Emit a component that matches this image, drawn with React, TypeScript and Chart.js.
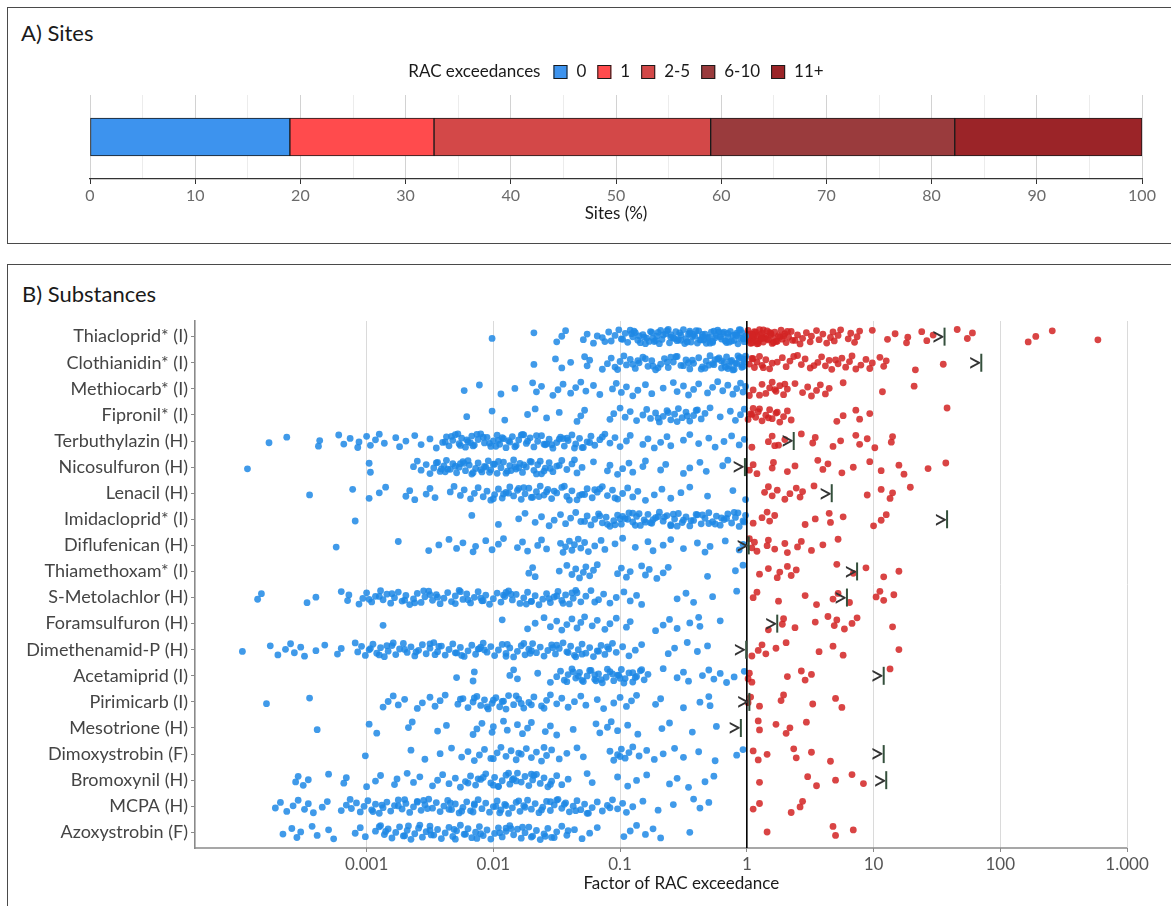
import React, { useEffect, useRef } from "react";
import { Chart, registerables } from "chart.js";

Chart.register(...registerables);

const FONT = "Lato, 'Noto Sans', sans-serif";

// ---------- Panel A: sites ----------
const siteCategories = ["0", "1", "2-5", "6-10", "11+"];
const sitePercent = [19.0, 13.7, 26.3, 23.2, 17.8];
const siteColors = ["#3d93ee", "#ff4b4d", "#d34848", "#9a3b3d", "#9b2428"];
const siteLegendTitle = "RAC exceedances";

// ---------- Panel B: substances ----------
const substances = [
  "Thiacloprid* (I)", "Clothianidin* (I)", "Methiocarb* (I)", "Fipronil* (I)",
  "Terbuthylazin (H)", "Nicosulfuron (H)", "Lenacil (H)", "Imidacloprid* (I)",
  "Diflufenican (H)", "Thiamethoxam* (I)", "S-Metolachlor (H)", "Foramsulfuron (H)",
  "Dimethenamid-P (H)", "Acetamiprid (I)", "Pirimicarb (I)", "Mesotrione (H)",
  "Dimoxystrobin (F)", "Bromoxynil (H)", "MCPA (H)", "Azoxystrobin (F)",
];

const xTickValues = [0.001, 0.01, 0.1, 1, 10, 100, 1000];
const xTickLabels = ["0.001", "0.01", "0.1", "1", "10", "100", "1.000"];

// log10 of the factor of RAC exceedance of each measurement
const thiacloprid = [-2.01,-1.68,-1.5,-1.46,-1.43,-1.29,-1.26,-1.21,-1.14,-1.09,-1.07,-1.04,-1.01,-0.99,-0.96,-0.94,-0.9,-0.89,-0.86,-0.82,-0.8,-0.79,-0.75,-0.73,-0.71,-0.68,-0.67,-0.64,-0.61,-0.6,-0.56,-0.55,-0.52,-0.5,-0.48,-0.45,-0.44,-0.41,-0.38,-0.37,-0.35,-0.32,-0.31,-0.28,-0.27,-0.24,-0.23,-0.2,-0.19,-0.16,-0.15,-0.13,-0.1,-0.09,-0.07,-0.05,-0.04,-0.02,-0.01,-0.63,-0.54,-0.46,-0.39,-0.3,-0.22,-0.17,-0.11,-0.06,-0.03,-0.08,-0.14,-0.21,-0.26,-0.34,-0.42,-0.49,-0.58,-0.7,-0.77,-0.85,-0.92,
  -0.98,-0.91,-0.84,-0.81,-0.76,-0.72,-0.66,-0.62,-0.57,-0.53,-0.47,-0.43,-0.4,-0.36,-0.33,-0.29,-0.25,-0.18,-0.12,-0.08,-0.05,-0.02,-0.15,-0.27,-0.35,-0.45,-0.52,-0.6,-0.69,-0.74,-0.88,-1.12,-1.18,
  0.01,0.02,0.03,0.04,0.05,0.06,0.07,0.08,0.1,0.11,0.12,0.13,0.15,0.16,0.17,0.19,0.2,0.21,0.22,0.24,0.25,0.27,0.28,0.3,0.31,0.33,0.35,0.38,0.4,0.42,0.44,0.47,0.5,0.51,0.55,0.57,0.6,0.63,0.66,0.68,0.69,0.72,0.74,0.8,0.82,0.85,0.87,0.89,0.02,0.06,0.09,0.14,0.18,0.23,0.29,0.99,1.11,1.17,1.26,1.27,1.38,1.42,1.47,1.66,1.74,1.78,2.22,2.28,2.41,2.77,
  0.01,0.03,0.05,0.07,0.09,0.11,0.13,0.16,0.19,0.21,0.26,0.32,0.36,0.04,0.08,0.12];
const clothianidin = [-1.68,-1.51,-1.46,-1.39,-1.28,-1.26,-1.24,-1.14,-1.1,-1.07,-1.04,-1.0,-0.97,-0.95,-0.92,-0.88,-0.85,-0.82,-0.78,-0.75,-0.72,-0.68,-0.65,-0.62,-0.58,-0.55,-0.52,-0.48,-0.45,-0.42,-0.38,-0.35,-0.32,-0.29,-0.26,-0.23,-0.2,-0.18,-0.16,-0.14,-0.12,-0.1,-0.08,-0.06,-0.04,-0.02,-0.01,-0.3,-0.25,-0.15,-0.09,-0.05,-0.03,-0.2,-0.11,
  -0.9,-0.8,-0.7,-0.63,-0.56,-0.5,-0.43,-0.36,-0.27,-0.22,-0.17,-0.13,-0.07,-0.04,-0.02,-0.33,-0.46,-0.6,-0.74,-0.86,-1.02,
  0.02,0.04,0.06,0.08,0.1,0.12,0.15,0.18,0.2,0.28,0.31,0.34,0.4,0.43,0.46,0.5,0.56,0.59,0.62,0.65,0.67,0.72,0.75,0.78,0.81,0.83,0.9,0.94,0.97,0.99,1.05,1.08,1.1,1.33,1.55,0.05,0.13,0.24,0.37,0.53,0.7,0.86];
const methiocarb = [-2.23,-2.11,-1.94,-1.83,-1.69,-1.66,-1.62,-1.53,-1.49,-1.45,-1.39,-1.35,-1.31,-1.27,-1.21,-1.16,-1.06,-1.03,-0.99,-0.95,-0.9,-0.86,-0.8,-0.75,-0.66,-0.58,-0.55,-0.5,-0.46,-0.42,-0.38,-0.31,-0.27,-0.23,-0.19,-0.15,-0.11,-0.08,-0.05,-0.03,-0.01,
  0.02,0.05,0.12,0.15,0.18,0.2,0.23,0.26,0.29,0.32,0.38,0.44,0.48,0.51,0.55,0.58,0.62,0.65,0.76,1.07,1.32,0.1,0.22,0.3];
const fipronil = [-2.21,-2.01,-1.91,-1.73,-1.67,-1.58,-1.48,-1.34,-1.31,-1.28,-1.08,-1.05,-1.0,-0.96,-0.92,-0.87,-0.82,-0.79,-0.76,-0.72,-0.69,-0.66,-0.63,-0.6,-0.57,-0.54,-0.51,-0.48,-0.45,-0.42,-0.39,-0.36,-0.33,-0.29,-0.21,-0.13,-0.09,-0.05,-0.02,-0.7,-0.62,-0.55,-0.47,-0.4,
  0.01,0.03,0.05,0.07,0.09,0.12,0.15,0.18,0.2,0.23,0.26,0.29,0.32,0.35,0.04,0.1,0.17,0.24,0.71,0.76,0.86,0.89,0.97,1.58];
const terbuthylazin = [-3.77,-3.63,-3.38,-3.37,-3.22,-3.18,-3.13,-3.07,-3.06,-3.0,-2.97,-2.93,-2.9,-2.86,-2.77,-2.74,-2.69,-2.62,-2.57,-2.5,-2.45,-2.4,-2.37,-2.35,-2.32,-2.3,-2.27,-2.25,-2.22,-2.2,-2.17,-2.15,-2.12,-2.1,-2.07,-2.05,-2.02,-2.0,-1.97,-1.95,-1.92,-1.9,-1.87,-1.85,-1.82,-1.8,-1.77,-1.74,-1.71,-1.68,-1.65,-1.62,-1.59,-1.56,-1.53,-1.5,-1.47,-1.44,-1.41,-1.38,-1.35,-1.32,-1.29,-1.26,-1.23,-1.2,-1.16,-1.12,-1.08,-1.04,-1.0,-0.95,-0.92,-0.82,-0.78,-0.73,-0.68,-0.63,-0.6,-0.5,-0.45,-0.38,-0.3,-0.25,-0.18,-0.12,-0.06,-0.02,-2.28,-2.18,-2.08,-1.98,-1.88,-1.78,-1.6,-1.45,-1.3,
  -2.38,-2.33,-2.26,-2.21,-2.13,-2.03,-1.93,-1.83,-1.73,-1.66,-1.54,-1.48,-1.36,-1.24,-1.14,-2.16,-1.96,-1.76,-1.58,-1.42,
  0.04,0.17,0.2,0.25,0.3,0.43,0.52,0.54,0.68,0.74,0.86,0.89,0.95,1.01,1.14,1.15,0.22];
const nicosulfuron = [-3.94,-2.98,-2.97,-2.63,-2.6,-2.57,-2.53,-2.5,-2.47,-2.44,-2.42,-2.39,-2.37,-2.34,-2.32,-2.29,-2.27,-2.24,-2.22,-2.19,-2.17,-2.14,-2.12,-2.09,-2.07,-2.04,-2.02,-1.99,-1.97,-1.94,-1.92,-1.89,-1.87,-1.84,-1.82,-1.79,-1.77,-1.74,-1.71,-1.68,-1.65,-1.62,-1.59,-1.56,-1.53,-1.5,-1.46,-1.42,-1.38,-1.34,-1.3,-1.21,-1.1,-1.08,-1.02,-0.98,-0.93,-0.9,-0.82,-0.8,-0.68,-0.64,-0.5,-0.45,-0.37,-0.32,-0.19,-0.15,-2.36,-2.26,-2.16,-2.06,-1.96,-1.86,-1.76,-1.66,-1.55,
  -2.45,-2.38,-2.3,-2.2,-2.1,-2.0,-1.9,-1.8,-1.7,-1.6,-1.48,-1.36,-2.41,-2.23,-2.03,-1.83,-1.63,
  0.02,0.05,0.08,0.2,0.21,0.32,0.38,0.56,0.6,0.64,0.75,0.84,0.97,1.06,1.2,1.24,1.43,1.57];
const lenacil = [-3.45,-3.11,-2.98,-2.9,-2.85,-2.69,-2.66,-2.62,-2.53,-2.5,-2.46,-2.34,-2.31,-2.26,-2.23,-2.18,-2.15,-2.12,-2.08,-2.05,-2.02,-1.99,-1.96,-1.93,-1.9,-1.87,-1.84,-1.81,-1.78,-1.75,-1.72,-1.69,-1.66,-1.63,-1.6,-1.57,-1.54,-1.5,-1.46,-1.42,-1.38,-1.34,-1.3,-1.26,-1.22,-1.18,-1.14,-1.1,-1.06,-1.02,-0.98,-0.94,-0.9,-0.86,-0.8,-0.73,-0.67,-0.6,-0.52,-0.45,-0.31,-0.11,-0.01,-1.92,-1.8,-1.7,-1.58,-1.44,-1.32,-1.2,
  -2.0,-1.88,-1.76,-1.64,-1.52,-1.4,-1.28,-1.16,-1.04,
  0.14,0.17,0.2,0.24,0.3,0.34,0.39,0.42,0.44,0.53,0.95,1.06,1.13,1.15,1.29];
const imidacloprid = [-3.09,-2.17,-1.96,-1.8,-1.75,-1.67,-1.62,-1.56,-1.52,-1.47,-1.43,-1.39,-1.35,-1.31,-1.26,-1.23,-1.2,-1.17,-1.14,-1.11,-1.08,-1.05,-1.02,-0.99,-0.96,-0.93,-0.9,-0.87,-0.84,-0.81,-0.78,-0.75,-0.72,-0.69,-0.66,-0.63,-0.6,-0.57,-0.54,-0.51,-0.48,-0.45,-0.42,-0.39,-0.36,-0.33,-0.3,-0.27,-0.24,-0.21,-0.18,-0.15,-0.12,-0.09,-0.06,-0.03,-0.01,-1.1,-1.0,-0.9,-0.8,-0.7,-0.6,-0.5,-0.4,-0.3,-0.2,-0.1,
  -1.28,-1.16,-1.04,-0.94,-0.85,-0.76,-0.65,-0.55,-0.44,-0.35,-0.25,-0.16,-0.07,-0.02,-0.98,-0.88,-0.74,-0.58,
  0.05,0.12,0.16,0.18,0.22,0.46,0.54,0.65,0.66,0.76,1.0,1.06,1.1];
const diflufenican = [-3.24,-2.75,-2.51,-2.43,-2.35,-2.29,-2.24,-2.16,-2.14,-2.06,-2.01,-1.96,-1.92,-1.81,-1.77,-1.73,-1.65,-1.62,-1.58,-1.47,-1.45,-1.43,-1.4,-1.38,-1.36,-1.33,-1.31,-1.28,-1.25,-1.2,-1.15,-1.12,-1.04,-0.98,-0.88,-0.78,-0.74,-0.66,-0.6,-0.5,-0.39,-0.33,-0.29,-0.17,-0.06,-0.03,
  0.02,0.04,0.06,0.08,0.16,0.17,0.22,0.3,0.32,0.4,0.43,0.51,0.6,0.72];
const thiamethoxam = [-1.72,-1.69,-1.67,-1.48,-1.42,-1.38,-1.35,-1.32,-1.29,-1.27,-1.24,-1.21,-1.18,-1.02,-0.99,-0.95,-0.92,-0.83,-0.8,-0.77,-0.71,-0.66,-0.62,-0.31,-0.09,-0.03,
  0.1,0.17,0.24,0.26,0.32,0.35,0.39,0.71,0.84,0.94,1.08,1.2];
const sMetolachlor = [-3.86,-3.83,-3.47,-3.4,-3.2,-3.15,-3.14,-3.06,-3.03,-3.0,-2.96,-2.93,-2.89,-2.87,-2.84,-2.81,-2.78,-2.75,-2.72,-2.69,-2.66,-2.63,-2.6,-2.57,-2.54,-2.51,-2.48,-2.45,-2.42,-2.39,-2.36,-2.33,-2.3,-2.27,-2.24,-2.21,-2.18,-2.15,-2.12,-2.09,-2.06,-2.03,-2.0,-1.97,-1.94,-1.91,-1.88,-1.85,-1.82,-1.79,-1.76,-1.73,-1.7,-1.67,-1.64,-1.61,-1.58,-1.55,-1.52,-1.49,-1.46,-1.43,-1.4,-1.37,-1.34,-1.31,-1.27,-1.23,-1.17,-1.13,-1.08,-1.03,-0.97,-0.92,-0.87,-0.83,-0.55,-0.48,-0.42,-0.27,-0.08,-2.7,-2.5,-2.3,-2.1,-1.9,-1.7,-1.5,-1.35,
  -2.98,-2.8,-2.62,-2.44,-2.26,-2.08,-1.92,-1.74,-1.56,-1.38,-1.2,-2.9,-2.55,-2.2,-1.86,-1.45,
  0.05,0.08,0.25,0.46,0.55,0.68,0.72,0.81,1.02,1.05,1.08,1.16];
const foramsulfuron = [-2.87,-1.93,-1.73,-1.67,-1.6,-1.55,-1.5,-1.46,-1.42,-1.38,-1.34,-1.31,-1.28,-1.22,-1.18,-1.12,-1.08,-1.03,-0.95,-0.92,-0.72,-0.66,-0.61,-0.55,-0.45,-0.38,-0.37,-0.21,
  0.17,0.28,0.29,0.38,0.54,0.64,0.69,0.71,0.77,0.83,0.87,1.15];
const dimethenamidP = [-3.98,-3.76,-3.7,-3.64,-3.6,-3.57,-3.52,-3.49,-3.4,-3.33,-3.23,-3.2,-3.09,-3.07,-3.04,-3.01,-2.98,-2.95,-2.92,-2.89,-2.86,-2.83,-2.8,-2.77,-2.74,-2.71,-2.68,-2.65,-2.62,-2.59,-2.56,-2.53,-2.5,-2.47,-2.44,-2.41,-2.38,-2.35,-2.32,-2.29,-2.26,-2.23,-2.2,-2.17,-2.14,-2.11,-2.08,-2.05,-2.02,-1.99,-1.96,-1.93,-1.9,-1.87,-1.84,-1.81,-1.78,-1.75,-1.72,-1.69,-1.66,-1.63,-1.6,-1.57,-1.54,-1.51,-1.48,-1.45,-1.42,-1.39,-1.36,-1.33,-1.3,-1.27,-1.24,-1.21,-1.18,-1.15,-1.12,-1.09,-1.06,-1.03,-0.98,-0.93,-0.88,-0.83,-0.62,-0.57,-0.47,-0.39,-0.31,-2.9,-2.7,-2.5,-2.3,-2.1,-1.9,-1.7,-1.5,-1.3,
  -2.97,-2.79,-2.61,-2.43,-2.25,-2.07,-1.89,-1.71,-1.53,-1.35,-1.17,-2.84,-2.46,-2.12,-1.76,-1.41,-1.1,
  0.04,0.09,0.12,0.15,0.23,0.31,0.57,0.68,0.76,1.2];
const acetamiprid = [-2.29,-2.15,-2.16,-1.87,-1.84,-1.81,-1.65,-1.55,-1.5,-1.47,-1.44,-1.41,-1.38,-1.35,-1.32,-1.29,-1.26,-1.23,-1.2,-1.17,-1.14,-1.11,-1.08,-1.05,-1.02,-0.99,-0.96,-0.93,-0.9,-0.87,-0.84,-0.81,-0.78,-0.66,-0.55,-0.5,-0.46,-0.35,-0.3,-0.26,-0.21,-0.16,-0.1,-0.02,-1.3,-1.2,-1.1,-1.0,-0.9,
  -1.42,-1.33,-1.24,-1.15,-1.06,-0.97,-0.88,-1.37,-1.19,-1.01,-0.83,
  0.01,0.02,0.04,0.32,0.43,0.46,0.51,1.13];
const pirimicarb = [-3.79,-3.45,-2.87,-2.83,-2.79,-2.75,-2.7,-2.6,-2.56,-2.5,-2.46,-2.42,-2.38,-2.28,-2.24,-2.2,-2.16,-2.13,-2.1,-2.07,-2.04,-2.01,-1.98,-1.95,-1.92,-1.88,-1.84,-1.8,-1.76,-1.72,-1.68,-1.62,-1.58,-1.55,-1.5,-1.46,-1.41,-1.36,-1.31,-1.27,-1.18,-1.13,-1.05,-1.0,-0.95,-0.91,-0.87,-0.72,-0.68,-0.5,-0.37,-0.3,-0.29,-2.0,-1.9,-1.78,
  -2.15,-2.05,-1.93,-1.82,-1.7,-2.26,-1.6,
  0.01,0.03,0.1,0.27,0.29,0.52,0.7,0.75];
const mesotrione = [-3.39,-2.98,-2.92,-2.67,-2.64,-2.44,-2.37,-2.16,-2.13,-2.09,-2.01,-2.0,-1.92,-1.89,-1.81,-1.77,-1.73,-1.7,-1.59,-1.55,-1.5,-1.37,-1.19,-1.16,-1.1,-1.07,-1.02,-0.94,-0.86,-0.67,-0.61,-0.43,-0.24,
  0.09,0.1,0.23,0.31,0.34,0.47];
const dimoxystrobin = [-3.01,-2.65,-2.54,-2.42,-2.33,-2.25,-2.2,-2.15,-2.11,-2.07,-2.02,-1.97,-1.94,-1.9,-1.86,-1.82,-1.78,-1.74,-1.7,-1.66,-1.62,-1.58,-1.54,-1.48,-1.42,-1.34,-1.29,-1.08,-1.05,-1.02,-0.99,-0.96,-0.93,-0.9,-0.85,-0.79,-0.73,-0.66,-0.57,-0.5,-0.38,-0.25,-0.08,-0.03,-2.0,-1.8,-1.6,-1.0,
  0.05,0.09,0.16,0.37,0.39,0.51,0.66];
const bromoxynil = [-3.56,-3.54,-3.5,-3.46,-3.3,-3.18,-3.16,-3.0,-2.93,-2.89,-2.78,-2.76,-2.68,-2.63,-2.58,-2.48,-2.44,-2.4,-2.35,-2.3,-2.26,-2.22,-2.18,-2.14,-2.1,-2.06,-2.02,-1.99,-1.96,-1.93,-1.9,-1.87,-1.84,-1.81,-1.78,-1.75,-1.72,-1.69,-1.66,-1.63,-1.6,-1.57,-1.54,-1.5,-1.46,-1.41,-1.26,-1.22,-1.02,-0.94,-0.87,-0.79,-0.61,-0.55,-0.46,-0.33,-0.26,-2.0,-1.85,-1.7,
  -2.2,-2.08,-1.96,-1.82,-1.68,-1.55,-2.12,-1.88,
  0.1,0.48,0.55,0.7,0.83,0.92];
const mcpa = [-3.72,-3.68,-3.63,-3.58,-3.54,-3.49,-3.46,-3.42,-3.35,-3.31,-3.2,-3.16,-3.13,-3.12,-3.08,-3.05,-3.02,-2.99,-2.96,-2.93,-2.9,-2.87,-2.84,-2.81,-2.78,-2.75,-2.72,-2.69,-2.66,-2.63,-2.6,-2.57,-2.54,-2.51,-2.48,-2.45,-2.42,-2.39,-2.36,-2.33,-2.3,-2.27,-2.24,-2.21,-2.18,-2.15,-2.12,-2.09,-2.06,-2.03,-2.0,-1.97,-1.94,-1.91,-1.88,-1.85,-1.82,-1.79,-1.76,-1.73,-1.7,-1.67,-1.64,-1.61,-1.58,-1.55,-1.52,-1.49,-1.46,-1.43,-1.4,-1.37,-1.34,-1.31,-1.28,-1.25,-1.22,-1.18,-1.14,-1.1,-1.06,-1.02,-0.98,-0.95,-0.9,-0.82,-0.7,-0.58,-0.42,-0.37,-0.3,-2.95,-2.75,-2.55,-2.35,-2.15,-1.95,-1.75,-1.55,-1.35,
  -2.88,-2.7,-2.52,-2.34,-2.16,-1.98,-1.8,-1.62,-1.44,-1.26,-1.08,-2.6,-2.25,-1.9,-1.5,
  0.05,0.1,0.35,0.42,0.44];
const azoxystrobin = [-3.66,-3.59,-3.55,-3.52,-3.43,-3.39,-3.3,-3.26,-3.09,-3.05,-3.01,-2.93,-2.89,-2.86,-2.83,-2.8,-2.77,-2.74,-2.71,-2.68,-2.65,-2.62,-2.59,-2.56,-2.53,-2.5,-2.47,-2.44,-2.41,-2.38,-2.35,-2.32,-2.29,-2.26,-2.23,-2.2,-2.17,-2.14,-2.11,-2.08,-2.05,-2.02,-1.99,-1.96,-1.93,-1.9,-1.87,-1.84,-1.81,-1.78,-1.75,-1.72,-1.69,-1.66,-1.63,-1.6,-1.57,-1.54,-1.5,-1.46,-1.42,-1.36,-1.3,-1.24,-1.18,-0.97,-0.92,-0.87,-0.8,-0.74,-0.68,-0.45,-2.9,-2.7,-2.5,-2.3,-2.1,-1.9,-1.7,
  -2.85,-2.67,-2.49,-2.31,-2.13,-1.95,-1.77,-1.59,-1.41,-2.58,-2.22,-1.86,-1.52,
  0.16,0.68,0.7,0.84];

const substanceValues = [
  thiacloprid, clothianidin, methiocarb, fipronil, terbuthylazin, nicosulfuron,
  lenacil, imidacloprid, diflufenican, thiamethoxam, sMetolachlor, foramsulfuron,
  dimethenamidP, acetamiprid, pirimicarb, mesotrione, dimoxystrobin, bromoxynil,
  mcpa, azoxystrobin,
];

// log10 position of the ">|" marker per substance (null = none)
const markerLog10 = [1.56, 1.85, null, null, 0.37, -0.015, 0.67, 1.58, 0.015, 0.87,
  0.79, 0.24, -0.005, 1.08, 0.02, -0.047, 1.08, 1.1, null, null];

const jitter = (k: number) => ((((k + 1) * 0.6180339887) % 1) - 0.5) * 0.56;

function SitesChart() {
  const ref = useRef<HTMLCanvasElement>(null);
  useEffect(() => {
    if (!ref.current) return;
    const legendPlugin = {
      id: "racLegend",
      afterDraw(chart: any) {
        const ctx = chart.ctx as CanvasRenderingContext2D;
        const ca = chart.chartArea;
        ctx.save();
        ctx.font = `17px ${FONT}`;
        const box = 14, gapBox = 9, gapItem = 11, gapTitle = 13;
        let total = ctx.measureText(siteLegendTitle).width + gapTitle;
        siteCategories.forEach((c, i) => {
          total += box + gapBox + ctx.measureText(c).width + (i < siteCategories.length - 1 ? gapItem : 0);
        });
        let x = (ca.left + ca.right) / 2 - total / 2;
        const y = 64;
        ctx.textBaseline = "middle";
        ctx.textAlign = "left";
        ctx.fillStyle = "#1a1a1a";
        ctx.fillText(siteLegendTitle, x, y);
        x += ctx.measureText(siteLegendTitle).width + gapTitle;
        siteCategories.forEach((c, i) => {
          ctx.fillStyle = siteColors[i];
          ctx.fillRect(x, y - box / 2, box, box);
          ctx.strokeStyle = "#1a1a1a";
          ctx.lineWidth = 1;
          ctx.strokeRect(x + 0.5, y - box / 2 + 0.5, box - 1, box - 1);
          x += box + gapBox;
          ctx.fillStyle = "#1a1a1a";
          ctx.fillText(c, x, y);
          x += ctx.measureText(c).width + gapItem;
        });
        ctx.restore();
      },
    };
    const chart = new Chart(ref.current, {
      type: "bar",
      data: {
        labels: ["Sites"],
        datasets: siteCategories.map((c, i) => ({
          label: c,
          data: [sitePercent[i]],
          backgroundColor: siteColors[i],
          borderColor: "#1a1a1a",
          borderWidth: 1,
          borderSkipped: false,
          barThickness: 38,
        })),
      },
      options: {
        indexAxis: "y",
        animation: false,
        responsive: false,
        devicePixelRatio: 1,
        layout: { padding: { left: 82, right: 29, top: 87, bottom: 0 } },
        plugins: { legend: { display: false }, tooltip: { enabled: false } },
        scales: {
          x: {
            stacked: true,
            min: 0,
            max: 100,
            afterFit: (s: any) => { s.height = 63; },
            ticks: {
              stepSize: 5,
              autoSkip: false,
              maxRotation: 0,
              padding: 2,
              color: "#6b6b6b",
              font: { family: FONT, size: 16 },
              callback: (v: any) => (Number(v) % 10 === 0 ? String(v) : ""),
            },
            grid: {
              color: (c: any) => (c.tick && c.tick.value % 10 === 0 ? "#d2d2d2" : "#ececec"),
              tickColor: (c: any) => (c.tick && c.tick.value % 10 === 0 ? "#333333" : "rgba(0,0,0,0)"),
              tickLength: 5,
              lineWidth: 1,
            },
            border: { color: "#333333", width: 1.2 },
            title: {
              display: true,
              text: "Sites (%)",
              color: "#1a1a1a",
              font: { family: FONT, size: 17 },
              padding: { top: 0, bottom: 18 },
            },
          },
          y: { stacked: true, display: false },
        },
      },
      plugins: [legendPlugin],
    } as any);
    return () => chart.destroy();
  }, []);
  return (
    <canvas ref={ref} width={1163} height={234}
      style={{ position: "absolute", left: 8, top: 8, width: 1163, height: 234 }} />
  );
}

function SubstancesChart() {
  const ref = useRef<HTMLCanvasElement>(null);
  useEffect(() => {
    if (!ref.current) return;
    const below: { x: number; y: number }[] = [];
    const above: { x: number; y: number }[] = [];
    substanceValues.forEach((vals, row) => {
      vals.forEach((v, k) => {
        const pt = { x: Math.pow(10, v), y: row + jitter(k) };
        (v < 0 ? below : above).push(pt);
      });
    });
    const overlayPlugin = {
      id: "overlay",
      afterDatasetsDraw(chart: any) {
        const ctx = chart.ctx as CanvasRenderingContext2D;
        const ca = chart.chartArea;
        const xs = chart.scales.x;
        const ys = chart.scales.y;
        ctx.save();
        // capped x axis line
        ctx.strokeStyle = "#8a8a8a";
        ctx.lineWidth = 1.6;
        ctx.beginPath();
        ctx.moveTo(ca.left, ca.bottom);
        ctx.lineTo(xs.getPixelForValue(1000), ca.bottom);
        ctx.stroke();
        // reference line at factor 1
        const x1 = xs.getPixelForValue(1);
        ctx.strokeStyle = "#000000";
        ctx.lineWidth = 1.6;
        ctx.beginPath();
        ctx.moveTo(x1, ca.top);
        ctx.lineTo(x1, ca.bottom);
        ctx.stroke();
        // markers
        markerLog10.forEach((m, i) => {
          if (m === null) return;
          const px = xs.getPixelForValue(Math.pow(10, m));
          const py = ys.getPixelForValue(i);
          ctx.strokeStyle = "#34503c";
          ctx.lineWidth = 2;
          ctx.beginPath();
          ctx.moveTo(px, py - 9);
          ctx.lineTo(px, py + 9);
          ctx.stroke();
          ctx.fillStyle = "#333333";
          ctx.font = `26px ${FONT}`;
          ctx.textAlign = "right";
          ctx.textBaseline = "middle";
          ctx.fillText(">", px + 1, py + 1);
        });
        ctx.restore();
      },
    };
    const chart = new Chart(ref.current, {
      type: "scatter",
      data: {
        datasets: [
          { label: "below", data: below, backgroundColor: "rgba(30,136,229,0.85)", pointRadius: 3.4, pointBorderWidth: 0, pointHoverRadius: 3.4 },
          { label: "above", data: above, backgroundColor: "rgba(210,35,35,0.85)", pointRadius: 3.4, pointBorderWidth: 0, pointHoverRadius: 3.4 },
        ],
      },
      options: {
        animation: false,
        responsive: false,
        devicePixelRatio: 1,
        layout: { padding: { left: 0, right: 2, top: 56, bottom: 0 } },
        plugins: { legend: { display: false }, tooltip: { enabled: false } },
        scales: {
          x: {
            type: "logarithmic",
            min: Math.pow(10, -4.354),
            max: Math.pow(10, 3.32),
            afterFit: (s: any) => { s.height = 58; },
            afterBuildTicks: (s: any) => { s.ticks = xTickValues.map((v) => ({ value: v })); },
            ticks: {
              autoSkip: false,
              maxRotation: 0,
              padding: 2,
              color: "#555555",
              font: { family: FONT, size: 17 },
              callback: (v: any) => {
                const idx = xTickValues.findIndex((t) => Math.abs(Math.log10(t) - Math.log10(Number(v))) < 1e-6);
                return idx >= 0 ? xTickLabels[idx] : "";
              },
            },
            grid: { color: "#dadada", lineWidth: 1, tickColor: "#8a8a8a", tickLength: 4 },
            border: { display: false },
            title: {
              display: true,
              text: "Factor of RAC exceedance",
              color: "#1a1a1a",
              font: { family: FONT, size: 17 },
              padding: { top: 0, bottom: 12 },
            },
          },
          y: {
            type: "linear",
            reverse: true,
            min: -0.6,
            max: 19.6,
            afterFit: (s: any) => { s.width = 187; },
            afterBuildTicks: (s: any) => { s.ticks = substances.map((_, i) => ({ value: i })); },
            ticks: {
              autoSkip: false,
              padding: 3,
              color: "#444444",
              font: { family: FONT, size: 18 },
              callback: (v: any) => substances[Math.round(Number(v))] ?? "",
            },
            grid: { drawOnChartArea: false, tickColor: "#8a8a8a", tickLength: 4 },
            border: { color: "#8a8a8a", width: 1.6 },
          },
        },
      },
      plugins: [overlayPlugin],
    } as any);
    return () => chart.destroy();
  }, []);
  return (
    <canvas ref={ref} width={1163} height={641}
      style={{ position: "absolute", left: 8, top: 265, width: 1163, height: 641 }} />
  );
}

export default function App() {
  return (
    <div style={{ position: "fixed", left: 0, top: 0, width: 1171, height: 906, overflow: "hidden", background: "#ffffff", fontFamily: FONT }}>
      <div style={{ position: "absolute", left: 7, top: 7, width: 1220, height: 235, border: "1.5px solid #4a4a4a" }} />
      <div style={{ position: "absolute", left: 7, top: 264, width: 1220, height: 700, border: "1.5px solid #4a4a4a" }} />
      <div style={{ position: "absolute", left: 21, top: 19, fontSize: 22, lineHeight: "28px", color: "#1a1a1a" }}>A) Sites</div>
      <div style={{ position: "absolute", left: 22, top: 280, fontSize: 22, lineHeight: "28px", color: "#1a1a1a" }}>B) Substances</div>
      <SitesChart />
      <SubstancesChart />
    </div>
  );
}
